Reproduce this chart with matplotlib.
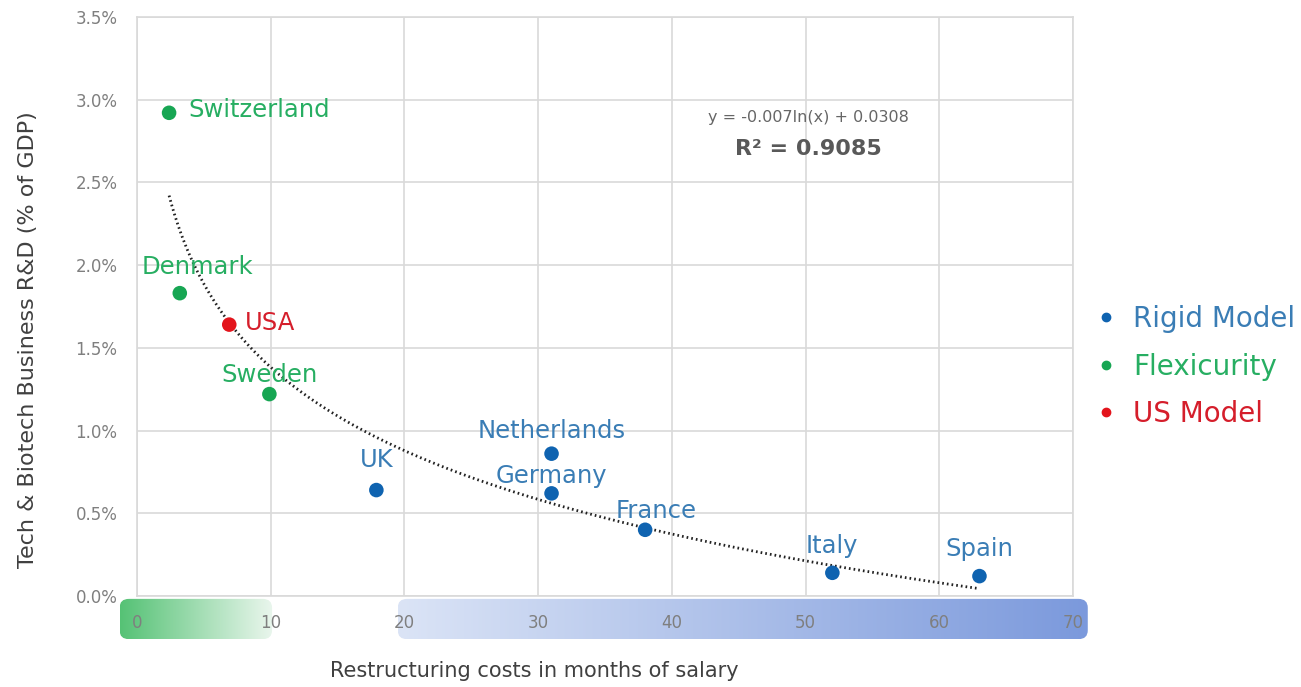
import numpy as np
import matplotlib
matplotlib.use("Agg")
import matplotlib.pyplot as plt
from matplotlib.patches import FancyBboxPatch
from matplotlib.lines import Line2D
from matplotlib.ticker import PercentFormatter, MultipleLocator

countries = ["Switzerland", "Denmark", "USA", "Sweden", "UK", "Netherlands",
             "Germany", "France", "Italy", "Spain"]
restructuring_months = [2.4, 3.2, 6.9, 9.9, 17.9, 31.0, 31.0, 38.0, 52.0, 63.0]
rd_share = [0.0292, 0.0183, 0.0164, 0.0122, 0.0064, 0.0086, 0.0062, 0.0040,
            0.0014, 0.0012]
model = ["Flexicurity", "Flexicurity", "US Model", "Flexicurity", "Rigid Model",
         "Rigid Model", "Rigid Model", "Rigid Model", "Rigid Model", "Rigid Model"]
# label offsets (points) and alignment
label_pos = {
    "Switzerland": ((14, 2), "left", "center"),
    "Denmark": ((13, 10), "center", "bottom"),
    "USA": ((11, 1), "left", "center"),
    "Sweden": ((0, 5), "center", "bottom"),
    "UK": ((0, 13), "center", "bottom"),
    "Netherlands": ((0, 8), "center", "bottom"),
    "Germany": ((0, 4), "center", "bottom"),
    "France": ((8, 5), "center", "bottom"),
    "Italy": ((0, 11), "center", "bottom"),
    "Spain": ((0, 11), "center", "bottom"),
}
legend_order = ["Rigid Model", "Flexicurity", "US Model"]
point_colors = {"Rigid Model": "#0f63b0", "Flexicurity": "#17a653", "US Model": "#e3141c"}
text_colors = {"Rigid Model": "#3a7db5", "Flexicurity": "#27ae62", "US Model": "#d51e2b"}

plt.rcParams['font.family'] = ['DejaVu Sans']

fig = plt.figure(figsize=(13.01, 6.87), dpi=100)
L, B, W, H = 0.1053, 0.1325, 0.7195, 0.843
ax = fig.add_axes([L, B, W, H])

for x, y, m in zip(restructuring_months, rd_share, model):
    ax.scatter(x, y, s=110, color=point_colors[m], zorder=4, edgecolors="none")

for c, x, y, m in zip(countries, restructuring_months, rd_share, model):
    off, ha, va = label_pos[c]
    ax.annotate(c, (x, y), xytext=off, textcoords="offset points", ha=ha, va=va,
                fontsize=17.5, color=text_colors[m], zorder=5)

# logarithmic trend line
coef = np.polyfit(np.log(restructuring_months), rd_share, 1)
xs = np.linspace(min(restructuring_months), max(restructuring_months), 300)
ax.plot(xs, coef[0] * np.log(xs) + coef[1], color="#222222", lw=2,
        linestyle=(0, (0.6, 1.1)), zorder=3)

ax.text(50.2, 0.0289, "y = -0.007ln(x) + 0.0308", ha="center", va="center",
        fontsize=11.5, color="#666666")
ax.text(50.2, 0.0270, "R² = 0.9085", ha="center", va="center", fontsize=16,
        fontweight="bold", color="#595959")

ax.set_xlim(0, 70)
ax.set_ylim(0, 0.035)
ax.xaxis.set_major_locator(MultipleLocator(10))
ax.yaxis.set_major_locator(MultipleLocator(0.005))
ax.yaxis.set_major_formatter(PercentFormatter(xmax=1, decimals=1))
ax.grid(True, color="#d9d9d9", lw=1.2)
ax.set_axisbelow(True)
for s in ax.spines.values():
    s.set_color("#d9d9d9")
    s.set_linewidth(1.2)
ax.tick_params(length=0, labelsize=12, labelcolor="#7f7f7f")
ax.tick_params(axis="x", pad=13)
ax.tick_params(axis="y", pad=14)
ax.set_ylabel("Tech & Biotech Business R&D (% of GDP)", fontsize=16,
              color="#404040")
ax.yaxis.set_label_coords(-0.106, 0.442)
ax.set_xlabel("Restructuring costs in months of salary", fontsize=15,
              color="#404040")
ax.xaxis.set_label_coords(0.424, -0.113)

# gradient bands behind x tick labels
x_lo, x_hi = -1.5, 71.5
bax = fig.add_axes([L + x_lo / 70 * W, 0.0684, (x_hi - x_lo) / 70 * W, 0.0611], zorder=-1)
bax.set_xlim(x_lo, x_hi)
bax.set_ylim(0, 1)
bax.axis("off")
bands = [(-1.3, 10.1, "#55c275", "#eaf6ed"), (19.5, 71.1, "#dbe4f6", "#7b99dc")]
for x0, x1, c0, c1 in bands:
    patch = FancyBboxPatch((x0, 0.02), x1 - x0, 0.96,
                           boxstyle="round,pad=0,rounding_size=0.7",
                           mutation_aspect=0.3, facecolor="none", edgecolor="none")
    bax.add_patch(patch)
    cmap = matplotlib.colors.LinearSegmentedColormap.from_list("g", [c0, c1])
    im = bax.imshow(np.linspace(0, 1, 256).reshape(1, -1), cmap=cmap,
                    extent=[x0, x1, 0.02, 0.98], aspect="auto", interpolation="bilinear")
    im.set_clip_path(patch)
bax.set_xlim(x_lo, x_hi)
bax.set_ylim(0, 1)

handles = [Line2D([], [], marker="o", ls="none", markersize=6,
                  color=point_colors[m]) for m in legend_order]
leg = fig.legend(handles, legend_order, loc="center left",
                 bbox_to_anchor=(0.8417, 0.4665), frameon=False, fontsize=20,
                 handlelength=0.8, handletextpad=0.58, labelspacing=0.7,
                 borderpad=0, borderaxespad=0)
for t, m in zip(leg.get_texts(), legend_order):
    t.set_color(text_colors[m])

fig.savefig("out.png", dpi=100)
